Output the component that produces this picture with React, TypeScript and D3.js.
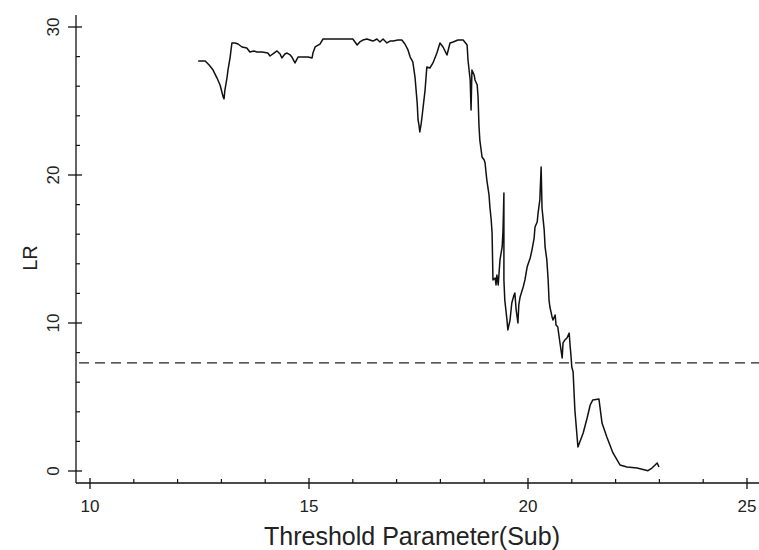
import React from "react";
import * as d3 from "d3";

const thresholds = [
  12.47, 12.63, 12.72, 12.81, 12.90, 12.97, 13.04, 13.06, 13.08, 13.13, 13.15, 13.20, 13.22, 13.24,
  13.31, 13.38, 13.47, 13.58, 13.65, 13.74, 13.81, 13.93, 14.06, 14.11, 14.20, 14.27, 14.34, 14.38,
  14.45, 14.50, 14.57, 14.61, 14.68, 14.75, 14.86, 14.98, 15.07, 15.09, 15.14, 15.25, 15.32, 15.48,
  15.71, 16.00, 16.05, 16.10, 16.16, 16.23, 16.32, 16.46, 16.55, 16.62, 16.69, 16.78, 16.85, 16.92,
  17.03, 17.12, 17.19, 17.26, 17.31, 17.37, 17.42, 17.47, 17.49, 17.51, 17.53, 17.56, 17.58, 17.65,
  17.69, 17.76, 17.83, 17.92, 17.99, 18.06, 18.15, 18.22, 18.29, 18.40, 18.52, 18.61, 18.63, 18.68,
  18.70, 18.72, 18.77, 18.79, 18.84, 18.86, 18.88, 18.90, 18.93, 18.95, 19.00, 19.02, 19.04, 19.06,
  19.11, 19.13, 19.16, 19.18, 19.20, 19.25, 19.27, 19.29, 19.32, 19.36, 19.41, 19.43, 19.45, 19.45,
  19.47, 19.52, 19.54, 19.59, 19.63, 19.68, 19.70, 19.73, 19.77, 19.79, 19.82, 19.89, 19.93, 19.98,
  20.05, 20.09, 20.14, 20.16, 20.21, 20.23, 20.27, 20.30, 20.32, 20.37, 20.39, 20.43, 20.46, 20.48,
  20.50, 20.55, 20.57, 20.62, 20.64, 20.68, 20.73, 20.78, 20.80, 20.84, 20.89, 20.94, 20.96, 20.98,
  21.00, 21.03, 21.07, 21.14, 21.26, 21.35, 21.42, 21.48, 21.62, 21.69, 21.80, 21.94, 22.10, 22.26,
  22.49, 22.74, 22.83, 22.95, 22.99,
];

const lrValues = [
  27.70, 27.70, 27.43, 27.09, 26.55, 26.08, 25.27, 25.14, 25.74, 26.62, 27.09, 27.97, 28.45, 28.92,
  28.92, 28.85, 28.65, 28.58, 28.31, 28.38, 28.31, 28.31, 28.24, 28.04, 28.24, 28.38, 28.18, 27.91,
  28.18, 28.24, 28.11, 27.97, 27.57, 27.97, 27.97, 27.97, 27.91, 28.24, 28.65, 28.85, 29.19, 29.19,
  29.19, 29.19, 28.99, 28.78, 28.99, 29.12, 29.19, 29.05, 29.19, 28.99, 29.19, 28.92, 29.05, 29.05,
  29.12, 29.12, 28.85, 28.45, 27.97, 27.64, 26.62, 24.86, 23.72, 23.38, 22.91, 23.45, 23.92, 25.74,
  27.30, 27.23, 27.57, 28.24, 28.92, 28.65, 28.11, 28.92, 28.99, 29.12, 29.12, 28.78, 27.77, 26.42,
  24.39, 27.09, 26.76, 26.42, 26.08, 25.27, 23.38, 22.36, 21.69, 21.22, 21.01, 20.81, 20.20, 19.66,
  18.65, 17.84, 16.96, 16.08, 12.91, 13.04, 12.57, 13.24, 12.57, 14.26, 15.14, 16.28, 18.78, 12.91,
  11.55, 10.20, 9.53, 10.20, 11.35, 11.89, 12.03, 10.88, 10.00, 11.22, 11.76, 12.43, 12.91, 13.78,
  14.39, 14.93, 15.74, 16.49, 16.82, 17.43, 18.31, 20.54, 17.77, 16.28, 15.14, 14.26, 12.91, 11.55,
  11.08, 10.41, 10.20, 10.54, 9.86, 9.73, 8.65, 7.64, 8.65, 8.85, 8.99, 9.32, 8.51, 7.84,
  7.03, 6.69, 4.12, 1.62, 2.57, 3.58, 4.46, 4.80, 4.86, 3.24, 2.30, 1.22, 0.41, 0.27,
  0.20, 0.02, 0.20, 0.54, 0.27,
];

const xMajorTicks = [10, 15, 20, 25];
const xMinorTicks = [11, 12, 13, 14, 16, 17, 18, 19, 21, 22, 23, 24];
const yMajorTicks = [0, 10, 20, 30];
const yMinorTicks = [2, 4, 6, 8, 12, 14, 16, 18, 22, 24, 26, 28];
const thresholdLR = [7.3];
const xTitle = "Threshold Parameter(Sub)";
const yTitle = "LR";

const W = 759;
const H = 550;
const FONT = "'Liberation Sans', Arial, sans-serif";

export default function App() {
  const x = d3.scaleLinear().domain([10, 25]).range([90, 747]);
  const y = d3.scaleLinear().domain([0, 30]).range([471, 27]);
  const axisX = 76;
  const axisY = 483;

  const pts: [number, number][] = thresholds.map((t, i) => [t, lrValues[i]]);
  const line = d3
    .line<[number, number]>()
    .x((d) => x(d[0]))
    .y((d) => y(d[1]));

  return (
    <svg
      width={W}
      height={H}
      style={{ position: "absolute", left: 0, top: 0, background: "#fff" }}
    >
      <rect x={0} y={0} width={W} height={H} fill="#fff" />
      <line x1={axisX} x2={axisX} y1={15} y2={axisY} stroke="#111" strokeWidth={1.3} />
      <line x1={axisX} x2={W} y1={axisY} y2={axisY} stroke="#111" strokeWidth={1.3} />

      {yMajorTicks.map((v) => (
        <g key={"ym" + v}>
          <line x1={axisX - 8} x2={axisX + 6} y1={y(v)} y2={y(v)} stroke="#111" strokeWidth={1.3} />
          <text
            transform={`translate(59,${y(v)}) rotate(-90)`}
            textAnchor="middle"
            fontFamily={FONT}
            fontSize={17}
            fill="#222"
          >
            {v}
          </text>
        </g>
      ))}
      {yMinorTicks.map((v) => (
        <line key={"yn" + v} x1={axisX} x2={axisX + 4} y1={y(v)} y2={y(v)} stroke="#111" strokeWidth={1.2} />
      ))}

      {xMajorTicks.map((v) => (
        <g key={"xm" + v}>
          <line x1={x(v)} x2={x(v)} y1={axisY - 5} y2={axisY + 6} stroke="#111" strokeWidth={1.3} />
          <text x={x(v)} y={512} textAnchor="middle" fontFamily={FONT} fontSize={17} fill="#222">
            {v}
          </text>
        </g>
      ))}
      {xMinorTicks.map((v) => (
        <line key={"xn" + v} x1={x(v)} x2={x(v)} y1={axisY - 4} y2={axisY} stroke="#111" strokeWidth={1.2} />
      ))}

      <text x={412} y={545} textAnchor="middle" fontFamily={FONT} fontSize={25} fill="#222">
        {xTitle}
      </text>
      <text
        transform={`translate(37,258) rotate(-90)`}
        textAnchor="middle"
        fontFamily={FONT}
        fontSize={20}
        fill="#222"
      >
        {yTitle}
      </text>

      {thresholdLR.map((v) => (
        <line
          key={"th" + v}
          x1={axisX + 3}
          x2={W}
          y1={y(v)}
          y2={y(v)}
          stroke="#222"
          strokeWidth={1.3}
          strokeDasharray="10,6"
        />
      ))}

      <path d={line(pts) || ""} fill="none" stroke="#111" strokeWidth={1.5} strokeLinejoin="round" />
    </svg>
  );
}
